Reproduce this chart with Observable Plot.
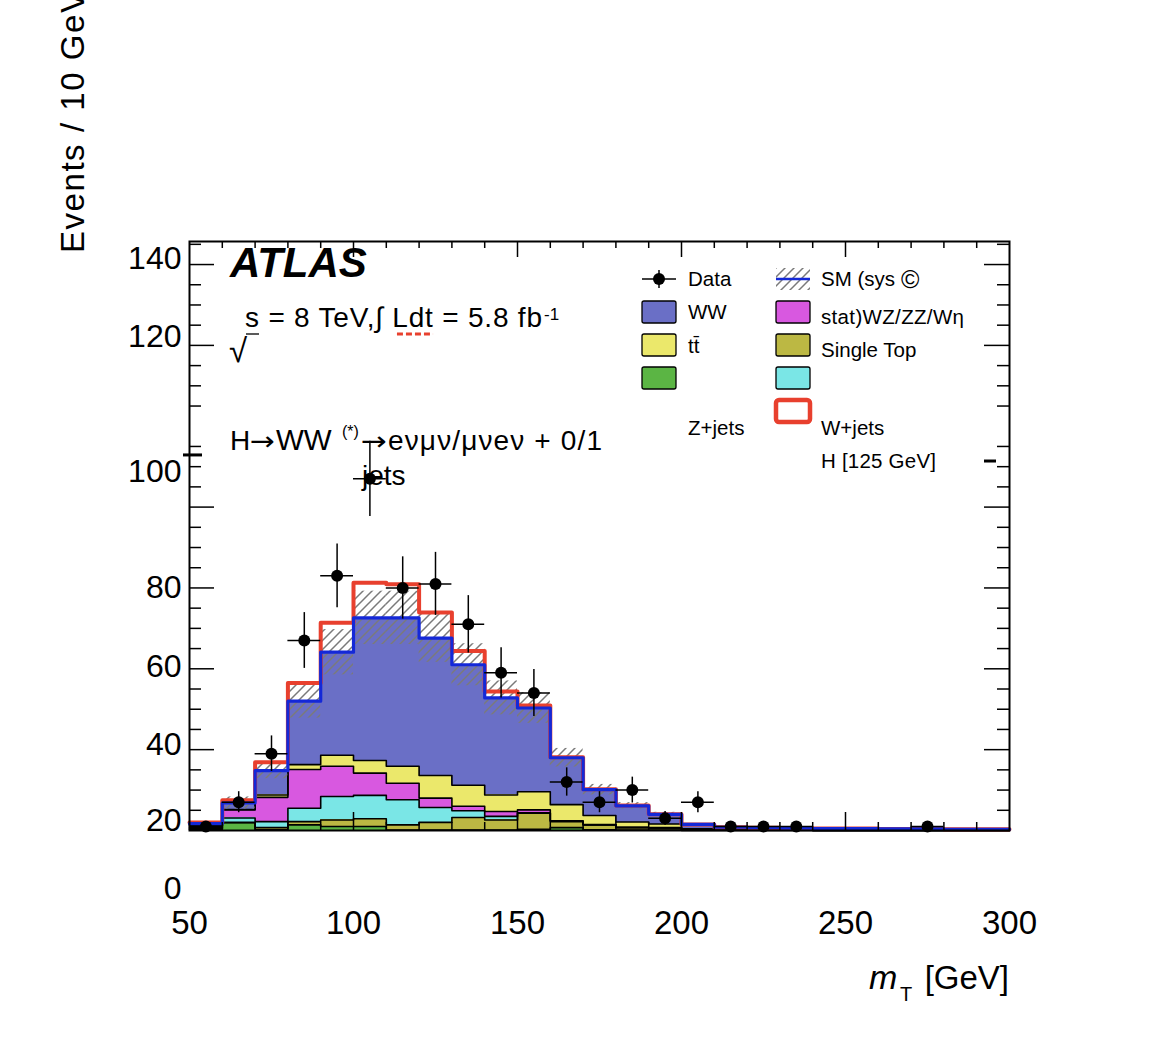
<!DOCTYPE html>
<html><head><meta charset="utf-8">
<script src="https://cdn.jsdelivr.net/npm/d3@7"></script>
<script src="https://cdn.jsdelivr.net/npm/@observablehq/plot@0.6"></script>
<style>
html,body{margin:0;padding:0;background:#fff;}
#chart svg{display:block;}
</style></head><body><div id="chart"></div>
<script>
// ---------- data ----------
const binLow = [50,60,70,80,90,100,110,120,130,140,150,160,170,180,190,200,210,220,230,240,250,260,270,280,290];
const binWidth = 10;
const zjets     = [0.3,1.9,0.2,1.4,1.0,1.0,0.1,0.1,0.1,0.1,0.3,0.7,0.2,0.1,0.1,0,0,0,0,0,0,0,0,0,0];
const singleTop = [0.1,0.1,0.5,0.8,1.6,1.9,1.3,1.9,3.1,2.5,4.0,1.5,1.2,0.6,0.5,0.2,0.1,0.1,0.1,0,0,0,0,0,0];
const wjets     = [0.3,1.1,1.5,3.3,5.8,5.8,6.2,3.7,1.7,0.9,0.1,0.1,0,0,0,0,0,0,0,0,0,0,0,0,0];
const wzzzwg    = [0.4,2.0,6.0,9.6,7.5,5.5,4.1,2.3,1.1,1.2,0.7,0.1,0.1,0.1,0.1,0,0,0,0,0,0,0,0,0,0];
const ttbar     = [0.1,0.1,0.6,1.2,2.7,3.1,4.2,5.6,5.2,4.1,4.5,4.0,2.2,1.3,0.9,0.2,0.1,0.1,0.1,0.1,0.1,0.1,0.1,0,0];
const ww        = [0.5,1.6,6.0,15.7,25.5,35.3,36.7,34.0,29.8,24.0,20.7,11.6,6.4,4.0,2.4,1.1,0.6,0.5,0.4,0.4,0.4,0.3,0.3,0.3,0.3];
const higgs     = [0.3,0.7,2.1,4.5,7.3,8.7,8.3,6.3,3.4,1.6,0.6,0.1,0.1,0.1,0,0,0,0,0,0,0,0,0,0,0];
const smSys     = [0.3,1.5,2.0,4.2,5.6,6.6,6.6,6.0,5.2,4.2,3.8,2.3,1.3,0.8,0.5,0.2,0.1,0.1,0.1,0.1,0.1,0.1,0.1,0.05,0.05];

const dataX   = [55,65,75,85,95,105,115,125,135,145,155,165,175,185,195,205,215,225,235,275];
const dataN   = [1,7,19,47,63,87,60,61,51,39,34,12,7,10,3,7,1,1,1,1];
const dataErr = [1.0,2.6,4.4,6.9,7.9,9.3,7.7,7.8,7.1,6.2,5.8,3.5,2.6,3.2,1.7,2.6,1.0,1.0,1.0,1.0];

const xTicks = [50,100,150,200,250,300];
const yTickLabels = ["140","120","100","80","60","40","20","0"];
// where the (displaced) y tick labels sit, in y units
const yTickLabelAt = [141.5,122.1,88.7,60.0,40.6,21.3,2.3,-14.5];

const componentNames  = ["Z+jets","Single Top","W+jets","WZ/ZZ/Wγ","tt̄","WW"];
const componentValues = [zjets, singleTop, wjets, wzzzwg, ttbar, ww];
const componentColors = ["#5bb544","#bcb843","#7ae6e6","#d858e0","#ebe86b","#6a6fc6"];

// ---------- derived tables ----------
const FONT = "'Liberation Sans', Arial, Helvetica, sans-serif";
const xMax = binLow[binLow.length-1] + binWidth;
const stackRows = [];
componentNames.forEach((name, k) => componentValues[k].forEach((v, i) =>
  stackRows.push({name, lo: binLow[i], hi: binLow[i] + binWidth, v})));

let cum = binLow.map(() => 0);
const stepRows = [];
componentNames.forEach((name, k) => {
  cum = cum.map((s, i) => s + componentValues[k][i]);
  binLow.forEach((lo, i) => stepRows.push({name, x: lo, y: cum[i]}));
  stepRows.push({name, x: xMax, y: cum[cum.length-1]});
});
const smTotal = cum.slice();
const smRows = binLow.map((lo, i) => ({x: lo, y: smTotal[i]})).concat([{x: xMax, y: smTotal[smTotal.length-1]}]);
const sigRows = binLow.map((lo, i) => ({x: lo, y: smTotal[i] + higgs[i]})).concat([{x: xMax, y: smTotal[smTotal.length-1] + higgs[higgs.length-1]}]);
const bandRows = binLow.map((lo, i) => ({lo, hi: lo + binWidth, y1: smTotal[i] - smSys[i], y2: smTotal[i] + smSys[i]}));
const pts = dataX.map((x, i) => ({x, n: dataN[i], e: dataErr[i]}));

const frameW = 1168 - 189 - 159, frameH = 1056 - 241 - 226;
const yMajor = [20,40,60,80,120,140];
const yMinor = d3.range(5, 146, 5).filter(v => v % 20 !== 0);
const xMajorT = [100,150,200,250];
const xMinorT = d3.range(60, 300, 10).filter(v => v % 50 !== 0);

const svg = Plot.plot({
  width: 1168, height: 1056,
  marginLeft: 189, marginRight: 159, marginTop: 241, marginBottom: 226,
  style: {fontFamily: FONT, background: "white", color: "black", overflow: "visible"},
  x: {domain: [50, 300], label: null, axis: null},
  y: {domain: [0, 145.7], label: null, axis: null},
  color: {domain: componentNames, range: componentColors},
  marks: [
    Plot.rectY(stackRows, {x1: "lo", x2: "hi", y: "v", fill: "name", z: "name", shapeRendering: "crispEdges"}),
    Plot.line(stepRows.filter(d => d.name !== "WW"), {x: "x", y: "y", z: "name", curve: "step-after", stroke: "black", strokeWidth: 1.6}),
    Plot.rect(bandRows, {x1: "lo", x2: "hi", y1: "y1", y2: "y2", fill: "url(#hatch)"}),
    Plot.line(sigRows, {x: "x", y: "y", curve: "step-after", stroke: "#e8402e", strokeWidth: 4}),
    Plot.line(smRows, {x: "x", y: "y", curve: "step-after", stroke: "#1428d8", strokeWidth: 3.2}),
    Plot.ruleX(pts, {x: "x", y1: d => d.n - d.e, y2: d => d.n + d.e, stroke: "black", strokeWidth: 1.5}),
    Plot.ruleY(pts, {y: "n", x1: d => d.x - binWidth/2, x2: d => d.x + binWidth/2, stroke: "black", strokeWidth: 1.5}),
    Plot.dot(pts, {x: "x", y: "n", r: 6, fill: "black"}),
    // frame ticks (ROOT style, inside)
    Plot.ruleY(yMajor, {y: d => d, insetRight: frameW - 25, stroke: "black", strokeWidth: 1.5}),
    Plot.ruleY(yMinor, {y: d => d, insetRight: frameW - 12, stroke: "black", strokeWidth: 1.5}),
    Plot.ruleY(yMajor, {y: d => d, insetLeft: frameW - 25, stroke: "black", strokeWidth: 1.5}),
    Plot.ruleY(yMinor, {y: d => d, insetLeft: frameW - 12, stroke: "black", strokeWidth: 1.5}),
    Plot.ruleY([92.9], {y: d => d, insetLeft: -6, insetRight: frameW - 13, stroke: "black", strokeWidth: 3}),
    Plot.ruleY([91.4], {y: d => d, insetLeft: frameW - 25, insetRight: 13, stroke: "black", strokeWidth: 3}),
    Plot.ruleX(xMajorT, {x: d => d, insetBottom: frameH - 16, stroke: "black", strokeWidth: 1.5}),
    Plot.ruleX(xMinorT, {x: d => d, insetBottom: frameH - 7, stroke: "black", strokeWidth: 1.5}),
    Plot.ruleX(xMajorT, {x: d => d, insetTop: frameH - 18, stroke: "black", strokeWidth: 1.5}),
    Plot.ruleX(xMinorT, {x: d => d, insetTop: frameH - 8, stroke: "black", strokeWidth: 1.5}),
    Plot.frame({stroke: "black", strokeWidth: 2}),
    Plot.axisX(xTicks, {anchor: "bottom", tickSize: 0, tickPadding: 80, fontSize: 33, label: null, tickFormat: d => String(d), fill: "black"}),
    Plot.text(yTickLabels, {y: (d, i) => yTickLabelAt[i], text: d => d, frameAnchor: "left", dx: -8, textAnchor: "end", fontSize: 32, fill: "black"}),
    Plot.ruleY([122.8], {x1: 113.4, x2: 124.4, stroke: "#e8402e", strokeWidth: 3, strokeDasharray: "6,3"})
  ]
});

const root = d3.select(svg);
root.insert("defs", ":first-child").html(
  '<pattern id="hatch" patternUnits="userSpaceOnUse" width="9" height="9">' +
  '<path d="M-1,1 l2,-2 M0,9 l9,-9 M8,10 l2,-2" stroke="#7a7a7a" stroke-width="1.5"/></pattern>');

const g = root.append("g").attr("font-family", FONT).attr("fill", "black").attr("text-anchor", "start");
function txt(x, y, s, size, opts = {}) {
  const t = g.append("text").attr("x", x).attr("y", y).attr("font-size", size)
    .attr("text-anchor", "start").text(s);
  for (const k in opts) t.attr(k, opts[k]);
  return t;
}
const fit = len => ({textLength: len, lengthAdjust: "spacing"});
const ARROW_FONT = "'DejaVu Sans', sans-serif";
// axis titles
txt(0, 0, "Events / 10 GeV", 33, Object.assign({transform: "translate(84,253) rotate(-90)"}, fit(262)));
txt(1009, 989, "[GeV]", 33, {"text-anchor": "end"});
txt(869, 989, "m", 34, {"font-style": "italic"});
txt(900, 1001, "T", 20);
// labels
txt(230, 277, "ATLAS", 42, {"font-weight": "bold", "font-style": "italic"});
txt(229, 362, "√", 33);
g.append("line").attr("x1", 246).attr("x2", 259).attr("y1", 334).attr("y2", 334).attr("stroke", "black").attr("stroke-width", 1.3);
txt(245, 327, "s = 8 TeV,∫ Ldt = 5.8 fb", 28, fit(297));
txt(544, 320, "-1", 17);
txt(230, 450, "H", 28);
txt(250, 450, "→", 26, {"font-family": ARROW_FONT, textLength: 25, lengthAdjust: "spacingAndGlyphs"});
txt(276, 450, "WW", 29.5);
txt(342, 437, "(*)", 16);
txt(361, 450, "→", 26, {"font-family": ARROW_FONT, textLength: 26, lengthAdjust: "spacingAndGlyphs"});
txt(388, 450, "eνμν/μνeν + 0/1", 28, fit(214));
txt(362, 485, "jets", 28);

// legend
const L = g.append("g");
function box(x, y, fill) {
  L.append("rect").attr("x", x).attr("y", y - 11).attr("width", 34).attr("height", 22)
    .attr("rx", 2).attr("fill", fill).attr("stroke", "black").attr("stroke-width", 1.3);
}
L.append("line").attr("x1", 642).attr("x2", 676).attr("y1", 279).attr("y2", 279).attr("stroke", "black").attr("stroke-width", 1.5);
L.append("line").attr("x1", 659).attr("x2", 659).attr("y1", 270).attr("y2", 288).attr("stroke", "black").attr("stroke-width", 1.5);
L.append("circle").attr("cx", 659).attr("cy", 279).attr("r", 6).attr("fill", "black");
box(642, 312, componentColors[5]);
box(642, 345, componentColors[4]);
box(642, 378, componentColors[0]);
L.append("rect").attr("x", 776).attr("y", 268).attr("width", 34).attr("height", 22).attr("fill", "url(#hatch)");
L.append("line").attr("x1", 776).attr("x2", 810).attr("y1", 279).attr("y2", 279).attr("stroke", "#1428d8").attr("stroke-width", 2.5);
box(776, 312, componentColors[3]);
box(776, 345, componentColors[1]);
box(776, 378, componentColors[2]);
L.append("rect").attr("x", 776).attr("y", 400).attr("width", 34).attr("height", 22).attr("rx", 3)
  .attr("fill", "white").attr("stroke", "#e8402e").attr("stroke-width", 4.5);
const LS = 20.5;
txt(688, 286, "Data", LS);
txt(688, 319, "WW", LS);
txt(688, 353, "tt̄", LS);
txt(688, 435, "Z+jets", LS);
txt(821, 286, "SM (sys ", LS);
txt(901, 288, "©", 25);
txt(821, 324, "stat)WZ/ZZ/Wη", LS, fit(143));
txt(821, 357, "Single Top", LS);
txt(821, 435, "W+jets", LS);
txt(821, 468, "H [125 GeV]", LS, fit(115));

document.getElementById("chart").appendChild(svg);
</script></body></html>
